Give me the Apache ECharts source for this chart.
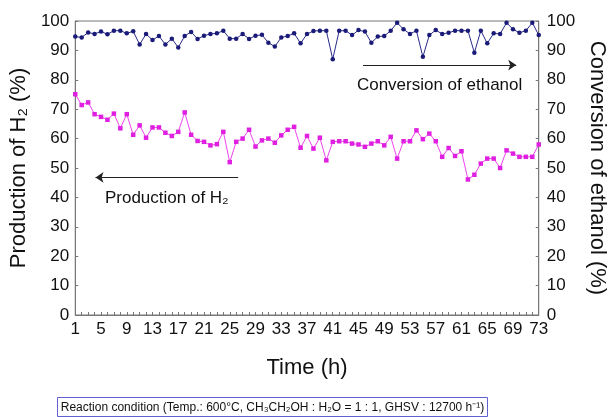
<!DOCTYPE html>
<html><head><meta charset="utf-8">
<script src="https://cdn.jsdelivr.net/npm/echarts@6/dist/echarts.min.js"></script>
<style>html,body{margin:0;padding:0;background:#fff}#c{width:616px;height:417px}</style>
</head><body><div id="c"></div>
<script>
// Time (h) 1..73
const hours = [1,2,3,4,5,6,7,8,9,10,11,12,13,14,15,16,17,18,19,20,21,22,23,24,25,26,27,28,29,30,31,32,33,34,35,36,37,38,39,40,41,42,43,44,45,46,47,48,49,50,51,52,53,54,55,56,57,58,59,60,61,62,63,64,65,66,67,68,69,70,71,72,73];
const xTickLabels = [1,5,9,13,17,21,25,29,33,37,41,45,49,53,57,61,65,69,73];
const yTickLabels = [0,10,20,30,40,50,60,70,80,90,100];
// Conversion of ethanol (%)
const conversion = [94.7,94.4,96.1,95.6,96.4,95.5,96.7,96.7,95.8,96.5,92.0,95.6,93.5,94.9,92.0,94.0,91.0,94.9,96.3,93.9,95.0,95.6,95.8,96.7,94.0,94.0,95.6,93.9,95.0,95.3,92.6,91.3,94.4,94.9,95.8,92.4,95.6,96.6,96.7,96.7,87.0,96.7,96.7,95.2,96.9,96.4,92.6,94.7,94.9,96.7,99.4,97.2,95.6,96.7,87.8,95.2,96.9,95.6,96.0,96.7,96.7,96.7,89.2,96.7,92.4,95.8,95.6,99.4,97.2,96.0,96.7,99.4,95.2];
// Production of H2 (%)
const production = [75.1,71.4,72.3,68.3,67.4,66.4,68.5,63.5,68.3,61.3,64.5,60.3,63.8,63.8,62.0,60.9,62.3,68.9,61.3,59.2,58.9,57.7,58.1,62.3,52.0,58.9,60.0,63.0,57.3,59.4,60.0,58.6,61.1,63.0,64.0,56.9,60.9,56.6,60.3,52.6,58.9,59.1,59.1,58.3,58.0,57.2,58.3,59.1,57.7,60.6,53.2,59.1,59.1,62.8,59.8,61.7,59.1,53.8,56.8,54.1,55.7,46.1,47.7,51.5,53.2,53.2,50.0,56.0,54.9,53.8,53.8,53.8,58.0];
// annotation arrows [x1, x2, y] in data units
const convArrow = [45.7, 69.5, 85.0];
const prodArrow = [4.15, 26.3, 46.8];

const FONT = 'Liberation Sans, Arial, sans-serif';
const AX = '#777';
const chart = echarts.init(document.getElementById('c'), null, {renderer:'canvas'});
chart.setOption({
  animation:false,
  backgroundColor:'#fff',
  textStyle:{fontFamily:FONT},
  grid:{left:74,right:62,top:21,bottom:102,show:true,borderColor:AX,borderWidth:1},
  xAxis:{type:'value',min:1,max:73,interval:4,
    name:'Time (h)',nameLocation:'middle',nameGap:42,
    nameTextStyle:{fontSize:22,color:'#111',fontFamily:FONT},
    axisLine:{lineStyle:{color:AX}},
    axisTick:{show:true,inside:true,length:3,lineStyle:{color:AX}},
    minorTick:{show:true,splitNumber:4,length:3,lineStyle:{color:AX}},
    splitLine:{show:false},
    axisLabel:{fontSize:17,color:'#111',margin:6,fontFamily:FONT,
      formatter:v=>xTickLabels.includes(v)?String(v):''}},
  yAxis:[
    {type:'value',min:0,max:100,interval:10,position:'left',
     name:'Production of H\u2082 (%)',nameLocation:'middle',nameGap:36,
     nameTextStyle:{fontSize:22,color:'#111',fontFamily:FONT},
     axisLine:{show:true,lineStyle:{color:AX}},
     axisTick:{show:true,inside:true,length:3,lineStyle:{color:AX}},
     splitLine:{show:false},
     axisLabel:{fontSize:17,color:'#111',margin:6,fontFamily:FONT,
       formatter:v=>yTickLabels.includes(v)?String(v):''}},
    {type:'value',min:0,max:100,interval:10,position:'right',
     name:'Conversion of ethanol (%)',nameLocation:'middle',nameGap:38,nameRotate:-90,
     nameTextStyle:{fontSize:22,color:'#111',fontFamily:FONT},
     axisLine:{show:true,lineStyle:{color:AX}},
     axisTick:{show:true,inside:true,length:3,lineStyle:{color:AX}},
     splitLine:{show:false},
     axisLabel:{fontSize:17,color:'#111',margin:8,fontFamily:FONT,
       formatter:v=>yTickLabels.includes(v)?String(v):''}}
  ],
  series:[
    {type:'line',name:'Conversion of ethanol',yAxisIndex:1,
     data:hours.map((h,i)=>[h,conversion[i]]),
     symbol:'circle',symbolSize:4.5,showSymbol:true,
     lineStyle:{color:'#2a2a8a',width:1},itemStyle:{color:'#1a1a78'},
     markLine:{silent:true,symbol:['none','arrow'],symbolSize:8,
       lineStyle:{color:'#222',width:1,type:'solid'},
       label:{show:true,position:'insideMiddleBottom',distance:12,formatter:'Conversion of ethanol',
         fontSize:17,color:'#111',fontFamily:FONT},
       data:[[{coord:[convArrow[0],convArrow[2]]},{coord:[convArrow[1],convArrow[2]]}]]}},
    {type:'line',name:'Production of H2',yAxisIndex:0,
     data:hours.map((h,i)=>[h,production[i]]),
     symbol:'rect',symbolSize:4.5,showSymbol:true,
     lineStyle:{color:'#ee44ee',width:1},itemStyle:{color:'#e020e0'},
     markLine:{silent:true,symbol:['arrow','none'],symbolSize:8,
       lineStyle:{color:'#222',width:1,type:'solid'},
       label:{show:true,position:'insideMiddleBottom',distance:12,formatter:'Production of H\u2082',
         fontSize:17,color:'#111',fontFamily:FONT},
       data:[[{coord:[prodArrow[0],prodArrow[2]]},{coord:[prodArrow[1],prodArrow[2]]}]]}}
  ],
  graphic:[{type:'group',left:57,top:397,children:[
    {type:'rect',shape:{x:0,y:0,width:430,height:19},style:{fill:'#fff',stroke:'#6060d0',lineWidth:1}},
    {type:'text',x:215,y:10,style:{text:'Reaction condition (Temp.: 600\u00b0C, CH\u2083CH\u2082OH : H\u2082O = 1 : 1, GHSV : 12700 h\u207b\u00b9)',
      font:'12px Liberation Sans, Arial, sans-serif',fill:'#111',textAlign:'center',textVerticalAlign:'middle'}}
  ]}]
});
</script></body></html>
